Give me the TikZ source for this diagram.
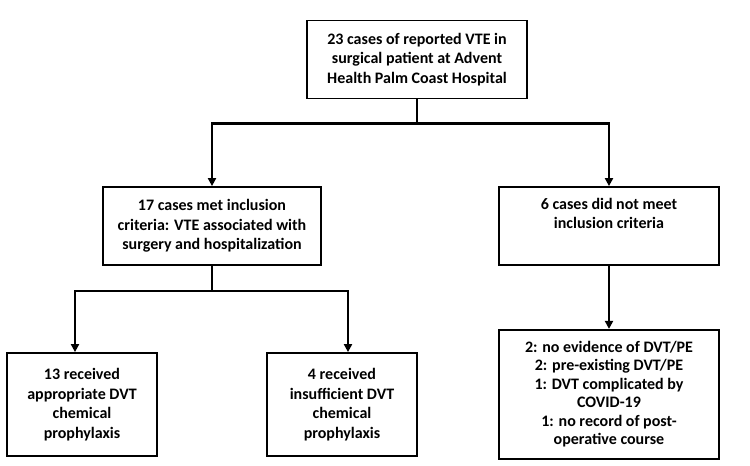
\documentclass[tikz,border=0pt]{standalone}
\usepackage{fontspec}
\setmainfont{Carlito}
\usetikzlibrary{%
	calc,%
	arrows.meta,%
	positioning,%
}
\tikzset{
	>={Triangle[width=8pt, length=8pt]},%
	nodes={align=center},%
	casebox/.style={%
			draw,%
			rectangle,%
			line width=1.8pt,%
			inner sep=2pt,%
			minimum width=220pt,%
			minimum height=78pt,%
			font={\bfseries\fontsize{16}{19.5}\selectfont},%
			fill=white},%
	smallbox/.style={%
			casebox,%
			minimum width=150pt,%
			minimum height=103pt},%
	flow/.style={%
			line width=2.4pt},%
}

\begin{document}
\begin{tikzpicture}[x=1pt, y=-1pt]%
	\useasboundingbox (0,0) rectangle (750,466);

	\node[casebox] (total) at (417,59.5) {23 cases of reported VTE in \\
		surgical patient at Advent \\
		Health Palm Coast Hospital};

	\node[casebox, minimum width=218pt] (met) at (212,226) {17 cases met inclusion \\
		criteria: VTE associated with \\
		surgery and hospitalization};
	\node[casebox] (notmet) at (609,226) {6 cases did not meet \\
		inclusion criteria \\
		\strut};

	\node[smallbox] (approp) at (82,404.5) {13 received \\
		appropriate DVT \\
		chemical \\
		prophylaxis};
	\node[smallbox] (insuff) at (342,404.5) {4 received \\
		insufficient DVT \\
		chemical \\
		prophylaxis};

	\node[casebox, minimum height=129pt, font={\bfseries\fontsize{16}{18.5}\selectfont}] (reasons) [below=63pt of notmet] {2: no evidence of DVT/PE \\
		2: pre-existing DVT/PE \\
		1: DVT complicated by \\
		COVID-19 \\
		1: no record of post- \\
		operative course};

	\coordinate (split) at ($(total.south)+(0,24)$);
	\coordinate (splitmet) at ($(met.south)+(0,25)$);

	\draw[flow] (total.south) to (split);
	\draw[flow, ->] (split) -| (met.north);
	\draw[flow, ->] (split) -| (notmet.north);
	\draw[flow] (met.south) to (splitmet);
	\draw[flow, ->] (splitmet) -| ($(approp.north)+(-7,0)$);
	\draw[flow, ->] (splitmet) -| ($(insuff.north)+(6,0)$);
	\draw[flow, ->] (notmet) to (reasons);
\end{tikzpicture}
\end{document}
